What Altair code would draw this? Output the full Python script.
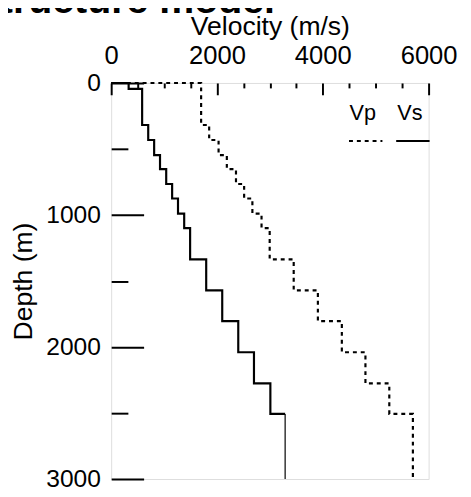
import altair as alt
import pandas as pd

# Layer tops (m), shared by both velocity profiles, and the model bottom
layer_tops = [0, 45, 318, 432, 546, 652, 765, 875, 990, 1100, 1336, 1571, 1804, 2040, 2276, 2507]
model_bottom = 3000
vs_values = [330, 585, 700, 812, 923, 1040, 1152, 1263, 1380, 1492, 1796, 2099, 2402, 2699, 3009, 3288]
vp_values = [1700, 1700, 1852, 2030, 2186, 2359, 2513, 2669, 2842, 2996, 3450, 3907, 4360, 4806, 5257, 5703]
series_names = ["Vp", "Vs"]

x_major = [0, 2000, 4000, 6000]
x_minor = [500, 1000, 1500, 2500, 3000, 3500, 4500, 5000, 5500]
y_major = [0, 1000, 2000, 3000]
y_minor = [500, 1500, 2500]

rows = []


def add_series(name, vals, thin_tail):
    order = 0
    rows.append(dict(series=name, velocity=0, depth=0, order=order, part="main", seg=name + "main"))
    bottoms = layer_tops[1:] + [model_bottom]
    n = len(vals)
    for i, (v, t, b) in enumerate(zip(vals, layer_tops, bottoms)):
        order += 1
        rows.append(dict(series=name, velocity=v, depth=t, order=order, part="main", seg=name + "main"))
        part = "main"
        if i == n - 1 and thin_tail:
            part = "tail"
            order += 1
            rows.append(dict(series=name, velocity=v, depth=t, order=order, part=part, seg=name + part))
        order += 1
        rows.append(dict(series=name, velocity=v, depth=b, order=order, part=part, seg=name + part))


add_series("Vp", vp_values, False)
add_series("Vs", vs_values, True)
df = pd.DataFrame(rows)

FONT = "Liberation Sans"

lines = alt.Chart(df).mark_line(color="black", strokeJoin="miter").encode(
    x=alt.X(
        "velocity:Q",
        scale=alt.Scale(domain=[0, 6000], nice=False),
        axis=alt.Axis(
            orient="top", values=x_major, format="d", title="Velocity (m/s)", tickSize=12, offset=-12,
            domain=False, grid=False, labelFontSize=26, titleFontSize=27, labelPadding=15,
            titlePadding=2, tickWidth=2, tickColor="black", labelColor="black",
            titleColor="black", titleFontWeight="normal", labelFlush=False,
            labelFont=FONT, titleFont=FONT,
        ),
    ),
    y=alt.Y(
        "depth:Q",
        scale=alt.Scale(domain=[0, 3000], reverse=True, nice=False),
        axis=alt.Axis(
            orient="left", values=y_major, format="d", title="Depth (m)", tickSize=33, offset=-33,
            domain=False, grid=False, labelFontSize=25, titleFontSize=27, labelPadding=11,
            titlePadding=8, tickWidth=2, tickColor="black", labelColor="black",
            titleColor="black", titleFontWeight="normal", labelFlush=False,
            labelFont=FONT, titleFont=FONT,
        ),
    ),
    order="order:Q",
    detail="seg:N",
    strokeWidth=alt.StrokeWidth("part:N", scale=alt.Scale(domain=["main", "tail"], range=[2.2, 1.2]), legend=None),
    strokeDash=alt.StrokeDash(
        "series:N",
        scale=alt.Scale(domain=series_names, range=[[4, 4], [1, 0]]),
        legend=alt.Legend(
            title=None, orient="none", legendX=241, legendY=41, direction="horizontal",
            symbolType="stroke", symbolSize=1156, symbolStrokeWidth=2, symbolStrokeColor="black",
            labelExpr="''", labelFontSize=22, labelOffset=0,
            columnPadding=6, padding=0,
        ),
    ),
)

# Invisible layer: carries the minor ticks and the legend's text labels
minor = alt.Chart(df).mark_point(opacity=0).encode(
    x=alt.X(
        "velocity:Q",
        axis=alt.Axis(orient="top", values=x_minor, tickSize=5, offset=-5, labels=False,
                      domain=False, grid=False, title=None, tickWidth=2, tickColor="black"),
    ),
    y=alt.Y(
        "depth:Q",
        axis=alt.Axis(orient="left", values=y_minor, tickSize=17, offset=-17, labels=False,
                      domain=False, grid=False, title=None, tickWidth=2, tickColor="black"),
    ),
    shape=alt.Shape(
        "series:N",
        legend=alt.Legend(
            title=None, orient="none", legendX=239, legendY=14, direction="horizontal",
            symbolType="stroke", symbolSize=1156, symbolOpacity=0, symbolStrokeWidth=0,
            labelAlign="center", labelOffset={"expr": "-17"}, labelFontSize=22,
            labelColor="black", labelFont=FONT, columnPadding=14, padding=0,
        ),
    ),
)

chart = (
    alt.layer(lines, minor)
    .resolve_axis(x="independent", y="independent")
    .properties(
        width=323,
        height=403,
        autosize=alt.AutoSizeParams(type="none"),
        padding={"left": 105, "top": 72, "right": 35, "bottom": 14},
        title=alt.TitleParams(
            "Structure model", anchor="start", frame="group", fontSize=40,
            fontWeight="bold", font=FONT, dx=-140, dy=12, color="black",
        ),
    )
    .configure_view(stroke="black", strokeWidth=2)
    .configure(font=FONT)
)

chart.save("out.html", embed_options={"renderer": "svg", "actions": False})
